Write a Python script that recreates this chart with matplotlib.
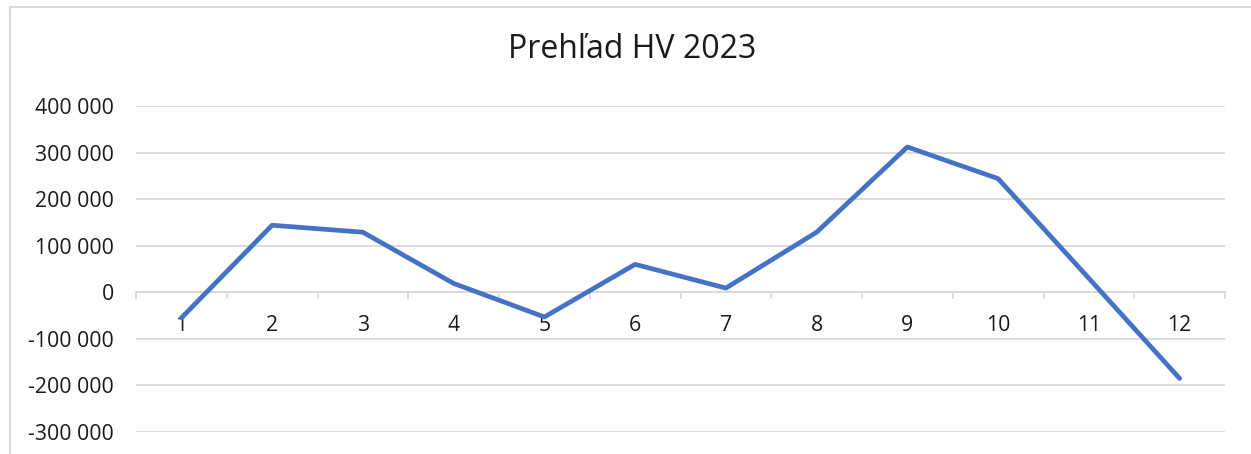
import matplotlib
matplotlib.use("Agg")
import matplotlib.pyplot as plt
from matplotlib.patches import Rectangle
from matplotlib.ticker import FuncFormatter, FixedLocator

months = list(range(1, 13))
month_labels = [str(m) for m in months]
hv_values = [-55000, 144000, 129000, 19000, -53000, 60000, 9000, 129000, 312000, 244000, 30000, -185000]
y_ticks = [-300000, -200000, -100000, 0, 100000, 200000, 300000, 400000]
title = "Prehľad HV 2023"

plt.rcParams['font.family'] = ['Open Sans', 'DejaVu Sans']
W, H = 1251, 454
fig = plt.figure(figsize=(W / 100, H / 100), dpi=100)
fig.patch.set_facecolor('white')

# chart border
fig.patches.append(Rectangle((10 / W, -0.1), 1.2, (H - 7) / H + 0.1, transform=fig.transFigure,
                             fill=False, edgecolor='#d9d9d9', linewidth=1.5))

ax = fig.add_axes([136 / W, 1 - 432 / H, (1225 - 136) / W, (432 - 106) / H])
ax.set_facecolor('none')
ax.plot(months, hv_values, color='#4472C4', linewidth=3.4, solid_capstyle='round', solid_joinstyle='round', zorder=3)

ax.set_xlim(0.5, 12.5)
ax.set_ylim(y_ticks[0], y_ticks[-1])
ax.set_yticks(y_ticks)
ax.yaxis.set_major_formatter(FuncFormatter(lambda v, p: f"{int(v):,}".replace(",", " ")))
ax.grid(axis='y', color='#d9d9d9', linewidth=1.3, zorder=0)
ax.tick_params(axis='y', length=0, pad=16, labelsize=15.3, labelcolor='#1a1a1a')

for s in ['top', 'right', 'left']:
    ax.spines[s].set_visible(False)
ax.spines['bottom'].set_position(('data', 0))
ax.spines['bottom'].set_color('#d9d9d9')
ax.spines['bottom'].set_linewidth(1.3)
ax.xaxis.set_major_locator(FixedLocator([m - 0.5 for m in months] + [12.5]))
ax.xaxis.set_minor_locator(FixedLocator(months))
ax.xaxis.set_major_formatter(FuncFormatter(lambda v, p: ""))
ax.xaxis.set_minor_formatter(FuncFormatter(lambda v, p: month_labels[int(round(v)) - 1]))
ax.tick_params(axis='x', which='major', length=5, width=1.3, color='#d9d9d9', direction='out')
ax.tick_params(axis='x', which='minor', length=0, pad=16, labelsize=15.3, labelcolor='#1a1a1a')

fig.text(632 / W, 1 - 50 / H, title, ha='center', va='center', fontsize=23, color='#1a1a1a')

fig.savefig('out.png', dpi=100)
